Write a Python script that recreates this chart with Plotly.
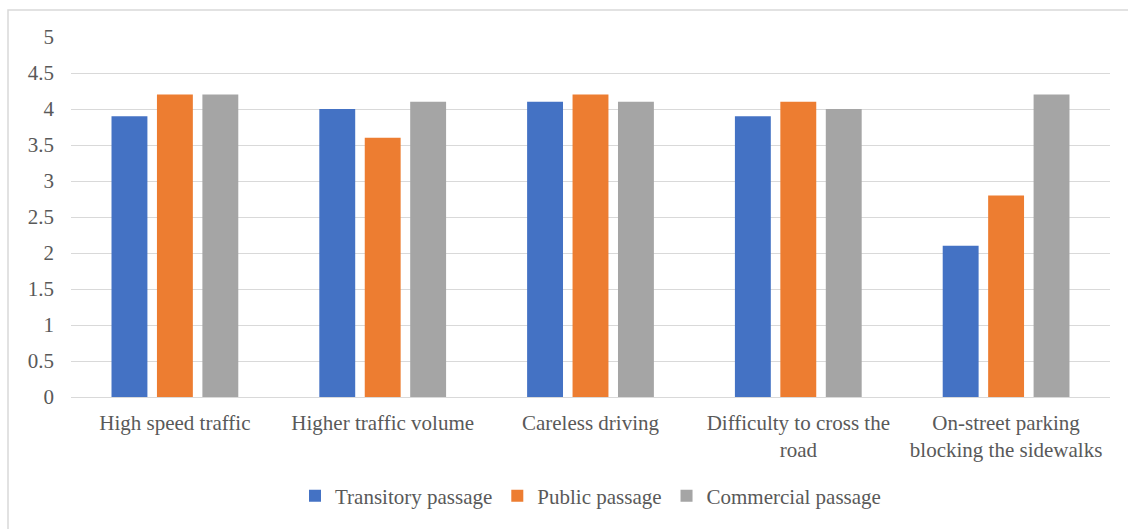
import plotly.graph_objects as go

categories = ["High speed traffic", "Higher traffic volume", "Careless driving",
              "Difficulty to cross the<br>road", "On-street parking<br>blocking the sidewalks"]
transitory = [3.9, 4.0, 4.1, 3.9, 2.1]
public = [4.2, 3.6, 4.2, 4.1, 2.8]
commercial = [4.2, 4.1, 4.1, 4.0, 4.2]
series_names = ["Transitory passage", "Public passage", "Commercial passage"]
colors = ["#4472C4", "#ED7D31", "#A5A5A5"]
y_ticks = [0, 0.5, 1, 1.5, 2, 2.5, 3, 3.5, 4, 4.5, 5]

W, H = 1128, 529
fig = go.Figure()
for name, vals, c in zip(series_names, [transitory, public, commercial], colors):
    fig.add_trace(go.Bar(x=categories, y=vals, name=name, marker_color=c, marker_line_width=0))

font = dict(family="Times New Roman, Liberation Serif, DejaVu Serif, serif", size=21, color="#595959")
fig.update_layout(
    width=W, height=H,
    margin=dict(l=71, r=18, t=37, b=132),
    paper_bgcolor="white", plot_bgcolor="white",
    barmode="group", bargap=0.344, bargroupgap=0.21,
    font=font,
    showlegend=True,
    legend=dict(orientation="h", x=0.5, xanchor="center", y=-0.275, yanchor="middle",
                font=font, itemwidth=30, traceorder="normal"),
    xaxis=dict(showgrid=False, showline=False, ticks="", tickfont=font, tickangle=0,
               ticklabelstandoff=11),
    yaxis=dict(range=[0, 5], tickvals=y_ticks, ticktext=[f"{v:g}" for v in y_ticks],
               showgrid=True, gridcolor="#D9D9D9", gridwidth=1, zeroline=True,
               zerolinecolor="#D9D9D9", zerolinewidth=1, showline=False, ticks="",
               tickfont=font, ticklabelstandoff=16),
    shapes=[dict(type="rect", xref="paper", yref="paper",
                 x0=-63 / (W - 89), x1=1.1, y0=-1.0, y1=1 + 27 / (H - 169),
                 line=dict(color="#D9D9D9", width=1.5), fillcolor="rgba(0,0,0,0)", layer="below")],
)
fig.write_html("out.html")
